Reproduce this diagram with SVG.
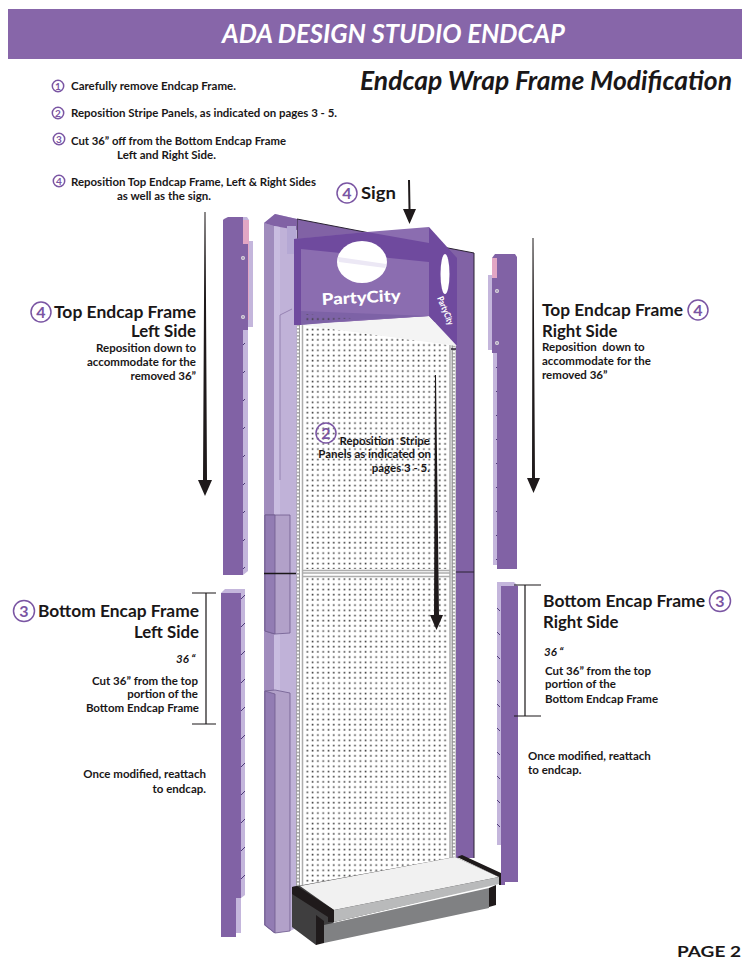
<svg xmlns="http://www.w3.org/2000/svg" width="750" height="970" viewBox="0 0 750 970">
<style>
text{font-family:"Lato","Open Sans","Liberation Sans",sans-serif;fill:#1a1718}
.s{font-size:11.5px;font-weight:700}
.h{font-size:16.8px;font-weight:700}
.e{text-anchor:end}
.c{fill:none;stroke:#7a55a3;stroke-width:1.5}
.n{font-weight:700;fill:#7a55a3;text-anchor:middle}
.m{fill:#8162a5}
.l{fill:#c4b6dc}
.k{fill:#1f1a1b}
.o{stroke:#6f5c8e;stroke-width:.8}
</style>
<defs>
<pattern id="peg" width="5.3" height="5.2" patternUnits="userSpaceOnUse" x="305" y="322"><rect x="1.500" y="1.500" width="1.600" height="1.600" fill="#3e3e3e"/></pattern>
<pattern id="st" width="4" height="3.500" patternUnits="userSpaceOnUse"><rect width="4" height="3.500" fill="#9a9a9a"/><ellipse cx="2" cy="1.700" rx="1.200" ry="1.200" fill="#fff"/></pattern>
<pattern id="dl" width="8" height="28" patternUnits="userSpaceOnUse"><path d="M0 12l5-5" stroke="#4d3a78" stroke-width="1"/></pattern>
<pattern id="dr" width="8" height="24" patternUnits="userSpaceOnUse"><path d="M0 7l4 4" stroke="#4d3a78" stroke-width="1"/></pattern>
</defs>
<rect id="header" x="8" y="9" width="734" height="50" fill="#8766a9"/>
<text x="222" y="43" textLength="343" lengthAdjust="spacingAndGlyphs" font-size="26" font-weight="700" font-style="italic" style="fill:#fff">ADA DESIGN STUDIO ENDCAP</text>
<text x="360" y="90" textLength="372" lengthAdjust="spacingAndGlyphs" font-size="27" font-weight="700" font-style="italic">Endcap Wrap Frame Modification</text>

<g id="steps">
<circle class="c" cx="58" cy="86" r="5.700"/><text class="n" x="58" y="89.500" font-size="10">1</text>
<text class="s" x="71" y="90" textLength="165" lengthAdjust="spacingAndGlyphs">Carefully remove Endcap Frame.</text>
<circle class="c" cx="58" cy="113" r="5.700"/><text class="n" x="58" y="116.500" font-size="10">2</text>
<text class="s" x="71" y="117" textLength="266" lengthAdjust="spacingAndGlyphs">Reposition Stripe Panels, as indicated on pages 3 - 5.</text>
<circle class="c" cx="59" cy="139" r="5.700"/><text class="n" x="59" y="142.500" font-size="10">3</text>
<text class="s" x="71" y="145" textLength="215" lengthAdjust="spacingAndGlyphs">Cut 36” off from the Bottom Endcap Frame</text>
<text class="s" x="117" y="159" textLength="99" lengthAdjust="spacingAndGlyphs">Left and Right Side.</text>
<circle class="c" cx="59" cy="181" r="5.700"/><text class="n" x="59" y="184.500" font-size="10">4</text>
<text class="s" x="71" y="186" textLength="245" lengthAdjust="spacingAndGlyphs">Reposition Top Endcap Frame, Left &amp; Right Sides</text>
<text class="s" x="117" y="200" textLength="94" lengthAdjust="spacingAndGlyphs">as well as the sign.</text>
</g>

<g id="endcap">
<polygon points="297,219 474,253 474,858 297,858" fill="#8162a5"/>
<path d="M297 240V219L474 253V858" fill="none" stroke="#2a2233" stroke-width="1"/>
<rect x="296" y="322" width="160" height="566" fill="#fff"/>
<rect x="296" y="322" width="4" height="566" fill="url(#st)"/>
<rect x="451.500" y="345" width="4" height="515" fill="url(#st)"/>
<polygon points="304,325 449,345 449,569 304,569" fill="url(#peg)"/>
<polygon points="304,578 449,578 449,858 304,888" fill="url(#peg)"/>
<path d="M302.500 325V888M450 345V858M302 570.500H450M302 573H450M302 576.500H450" stroke="#adadad" stroke-width="1.500" fill="none"/>
<path d="M451 349H456" stroke="#2a2233" stroke-width="1.500"/>
<line x1="456" y1="572" x2="474" y2="572" stroke="#2a2233" stroke-width="1"/>
<polygon points="294,325 429,316 457,346 302,325" fill="#f4f4f4"/>

<polygon points="264,223 275,214 297,219 296,928 290,931 275,933 264,925" fill="#c0b2d8"/>
<polygon points="264,223 274,226 274,933 264,925" fill="#a08cbd"/>
<polygon points="264,223 275,214 297,219 297,230 274,226" fill="#8162a5"/>
<polygon points="274,226 280,227 280,931 274,933" fill="#c9bde0"/>
<rect x="287" y="226" width="9" height="28" fill="#b5a8d4"/>
<path d="M280 480V315L292 309" fill="none" stroke="#8a76a8" stroke-width=".8"/>
<polygon class="o" points="265,515 275,515 290,515 290,633 275,634 265,631" fill="#b2a1c9"/>
<polygon class="o" points="265,515 275,515 275,634 265,631" fill="#927cb3"/>
<polygon class="o" points="265,691 275,690 290,693 290,931 275,933 265,925" fill="#b2a1c9"/>
<polygon class="o" points="265,691 275,694 275,933 265,925" fill="#927cb3"/>
<line x1="264" y1="573.500" x2="296" y2="573.500" stroke="#1a1718" stroke-width="1.500"/>
</g>

<g id="shelf">
<polygon points="292,887 455,857 499,877 499,883 334,922 316,945 292,927" fill="#3f3e3f"/>
<polygon points="324,925 489,888 489,908 324,943" fill="#808183"/>
<polygon points="316,915 324,921 324,943 316,945" class="k"/>
<polygon points="489,888 496,885 496,905 489,907" class="k"/>
<polygon points="300,886 455,857 499,877 334,910" fill="#f1f1f1"/>
<polygon points="334,910 499,877 499,884 334,922" fill="#b9babb"/>
<polygon points="292,887 297,886 334,910 334,922 328,922 328,917 292,894" class="k"/>
<polygon points="457,857 462,855 501,873 501,880 505,880 505,885 499,885 499,877" class="k"/>
</g>

<g id="sign">
<polygon points="294,239 367,232 429,227 429,316 294,325" fill="#8b6db0"/>
<polygon points="294,239 367,232 429,243 429,262 301,249 301,325 294,325" fill="#6f4a9e"/>
<polygon points="301,311 429,316 357,320 301,325" fill="#7d62a6"/>
<polygon points="304,314 355,318 304,322" fill="url(#peg)"/>
<ellipse cx="362" cy="262" rx="25" ry="21" fill="#fff"/>
<path d="M338 257L386 264L385.500 268 L339 262Z" fill="#ece8f5"/>
<text x="322" y="305" textLength="79" lengthAdjust="spacingAndGlyphs" font-size="16" font-weight="900" style="fill:#fff" transform="rotate(-3 322 305)">PartyCity</text>
<polygon points="429,227 457,258 457,346 429,316" fill="#6f4a9e"/>
<ellipse cx="445" cy="274" rx="4.500" ry="20" fill="#fff"/>
<text x="0" y="0" textLength="30" lengthAdjust="spacingAndGlyphs" font-size="9" font-weight="900" style="fill:#fff" transform="translate(437 298) rotate(68)">PartyCity</text>
</g>

<g id="frame-top-left">
<polygon class="l" points="228,217 247,217 249,220 249,241 253,241 253,327 248,327 248,571 243,575 243,220"/>
<polygon points="243,220 249,220 249,244 243,244" fill="#e2a6c4"/>
<path d="M248.500 244V320" stroke="#e2a6c4" stroke-width="1"/>
<polygon class="m" points="224,219 228,217 243,217 243,244 248,244 248,330 243,330 243,575 223,575 223,220"/>
<rect x="243" y="330" width="5" height="240" fill="url(#dl)"/>
<circle cx="243" cy="258" r="2" fill="#ddd"/><circle cx="243" cy="317" r="2" fill="#ddd"/>
<circle cx="243" cy="258" r=".8" fill="#8162a5"/><circle cx="243" cy="317" r=".8" fill="#8162a5"/>
</g>
<g id="frame-top-right">
<polygon class="l" points="488,275 497,275 497,565 493,565 493,350 488,350"/>
<polygon points="492,258 497,258 497,278 492,278" fill="#e2a6c4"/>
<polygon class="m" points="495,254 515,254 517,257 517,569 497,569 497,353 492,353 492,278 497,278 497,258 492,258"/>
<rect x="493" y="360" width="4" height="205" fill="url(#dr)"/>
<circle cx="497" cy="291" r="2" fill="#ddd"/><circle cx="497" cy="343" r="2" fill="#ddd"/>
<circle cx="497" cy="291" r=".8" fill="#8162a5"/><circle cx="497" cy="343" r=".8" fill="#8162a5"/>
</g>
<g id="frame-bottom-left">
<polygon class="l" points="225,589 245,589 245,895 241,898 241,933 236,933 236,593 221,593"/>
<polygon class="m" points="221,593 241,593 241,898 236,898 236,937 221,937"/>
<rect x="241" y="595" width="4" height="300" fill="url(#dl)"/>
</g>
<g id="frame-bottom-right">
<polygon class="l" points="497,582 514,582 518,586 501,586 505,885 502,885 502,845 497,845"/>
<polygon class="m" points="501,586 518,586 518,882 505,882 505,885 501,885"/>
<rect x="497" y="590" width="4" height="250" fill="url(#dr)"/>
</g>

<g id="connectors">
<polygon class="k" points="204.500,212 205.500,212 207,480 212,480 205,496 198,480 203,480"/>
<polygon class="k" points="532.500,238 533.500,238 535,478 540,478 533.500,493 527,478 532,478"/>
<polygon class="k" points="408,180 410,180 410.500,209 416,209 409.500,224 403,209 408.500,209"/>
<polygon class="k" points="435,375 436,375 439,615 443,615 436.500,630 430,615 434,615"/>
<path d="M192 593H216M206 593V724M192 724H216M514 585H541M525 585V716M514 716H541" stroke="#1a1718" stroke-width="1.200" fill="none"/>
</g>

<g id="labels">
<circle class="c" cx="347" cy="193" r="10"/><text class="n" x="347" y="199" font-size="16">4</text>
<text class="h" x="361" y="199" textLength="35" lengthAdjust="spacingAndGlyphs">Sign</text>
<circle class="c" cx="41" cy="312" r="10"/><text class="n" x="41" y="318" font-size="16">4</text>
<text class="h" x="54" y="318" textLength="142" lengthAdjust="spacingAndGlyphs">Top Endcap Frame</text>
<text class="h e" x="196" y="337">Left Side</text>
<text class="s e" x="196" y="352">Reposition down to</text>
<text class="s e" x="196" y="366">accommodate for the</text>
<text class="s e" x="196" y="380">removed 36”</text>
<text class="h" x="542" y="316" textLength="141" lengthAdjust="spacingAndGlyphs">Top Endcap Frame</text>
<circle class="c" cx="698" cy="310" r="10"/><text class="n" x="698" y="316" font-size="16">4</text>
<text class="h" x="542" y="337">Right Side</text>
<text class="s" x="542" y="351" xml:space="preserve">Reposition  down to</text>
<text class="s" x="542" y="365">accommodate for the</text>
<text class="s" x="542" y="379">removed 36”</text>
<circle class="c" cx="326" cy="433" r="10"/><text class="n" x="326" y="439" font-size="16">2</text>
<text class="s e" x="430" y="445" xml:space="preserve">Reposition  Stripe</text>
<text class="s e" x="431" y="458">Panels as indicated on</text>
<text class="s e" x="430" y="472">pages 3 - 5.</text>
<circle class="c" cx="24" cy="611" r="10.500"/><text class="n" x="24" y="617" font-size="16">3</text>
<text class="h" x="38" y="617" textLength="161" lengthAdjust="spacingAndGlyphs">Bottom Encap Frame</text>
<text class="h e" x="199" y="638">Left Side</text>
<text class="s" x="176" y="663" font-size="12" font-style="italic">36 “</text>
<text class="s e" x="198" y="685">Cut 36” from the top</text>
<text class="s e" x="198" y="698">portion of the</text>
<text class="s e" x="199" y="712">Bottom Endcap Frame</text>
<text class="s e" x="206" y="778">Once modified, reattach</text>
<text class="s e" x="206" y="793">to endcap.</text>
<text class="h" x="543" y="607" textLength="162" lengthAdjust="spacingAndGlyphs">Bottom Encap Frame</text>
<circle class="c" cx="720" cy="601" r="10.500"/><text class="n" x="720" y="607" font-size="16">3</text>
<text class="h" x="543" y="628">Right Side</text>
<text class="s" x="544" y="656" font-style="italic">36 “</text>
<text class="s" x="545" y="675">Cut 36” from the top</text>
<text class="s" x="545" y="688">portion of the</text>
<text class="s" x="545" y="703">Bottom Endcap Frame</text>
<text class="s" x="528" y="760">Once modified, reattach</text>
<text class="s" x="528" y="774">to endcap.</text>
<text x="677" y="957" textLength="64" lengthAdjust="spacingAndGlyphs" font-size="15" font-weight="700">PAGE 2</text>
</g>
</svg>
